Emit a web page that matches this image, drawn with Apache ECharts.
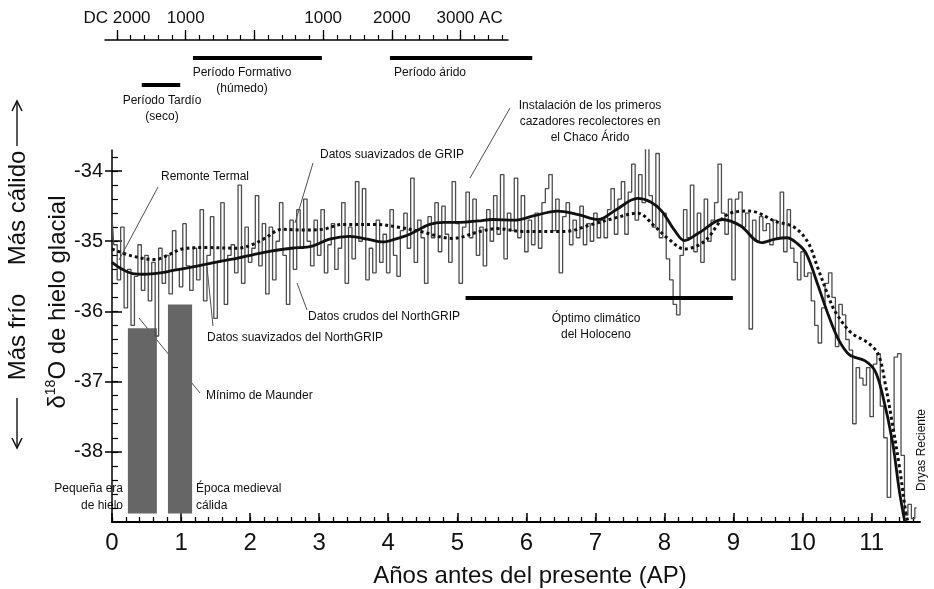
<!DOCTYPE html>
<html><head><meta charset="utf-8">
<script src="https://cdn.jsdelivr.net/npm/echarts@6/dist/echarts.min.js"></script>
<style>html,body{margin:0;padding:0;background:#fff}#c{width:934px;height:589px}</style>
</head><body><div id="c"></div>
<script>
const FONT = '"Liberation Sans", Arial, Helvetica, sans-serif';

// ---- axis ticks / labels ----
const xMajorTicks = [0,1,2,3,4,5,6,7,8,9,10,11];
const xTickLabels = ['0','1','2','3','4','5','6','7','8','9','10','11'];
const yMajorTicks = [-39,-38,-37,-36,-35,-34];
const yLabelValues = [-38,-37,-36,-35,-34];
const topMajorTicks = [0,1,2,3,4,5];
const topTickLabels = ['DC 2000','1000','','1000','2000','3000 AC'];

// ---- raw NorthGRIP (step 0.05 ka from 0) ----
const rawStep = 0.05;
const rawValues = [
-34.65,-35.05,-35.55,-34.80,-35.95,-35.40,-36.20,-35.50,-35.05,-35.70,
-35.20,-35.85,-35.30,-36.35,-35.10,-35.60,-35.20,-35.75,-34.85,-35.40,
-35.65,-34.75,-35.35,-35.70,-35.10,-35.55,-34.55,-35.85,-35.20,-34.65,
-36.10,-35.30,-34.45,-35.90,-35.20,-35.05,-35.45,-34.20,-35.60,-34.80,
-35.30,-35.10,-34.35,-35.35,-34.75,-35.75,-34.80,-35.55,-35.00,-34.45,
-35.20,-35.90,-34.70,-35.40,-34.55,-35.10,-34.40,-35.00,-35.35,-34.70,
-35.20,-34.55,-35.45,-35.05,-34.75,-35.40,-35.10,-34.45,-35.60,-34.80,
-35.25,-34.15,-35.00,-34.25,-35.55,-35.10,-35.45,-34.70,-35.30,-34.90,
-35.45,-34.55,-35.20,-35.50,-34.85,-34.60,-35.10,-34.10,-35.30,-34.70,
-34.95,-35.60,-34.65,-34.95,-34.45,-35.15,-34.50,-34.90,-35.30,-34.15,
-34.75,-35.60,-34.80,-34.30,-34.95,-34.40,-35.20,-34.80,-35.35,-34.55,
-35.00,-34.35,-34.90,-34.05,-35.25,-34.60,-34.85,
-34.10,-34.95,-34.35,-35.15,-34.70,-35.05,-34.60,-35.10,-34.45,-34.25,
-34.05,-34.85,-34.40,-35.45,-34.65,-34.45,-35.05,-34.70,-34.95,-34.50,
-35.05,-34.75,-35.00,-34.60,-34.95,-34.70,-34.95,-34.55,-34.25,-34.90,
-34.40,-34.15,-34.90,-34.30,-33.90,-34.70,-34.05,-34.45,-33.65,-34.35,
-34.80,-33.75,-34.95,-34.60,-35.25,-35.55,-35.90,-36.05,-35.20,-34.55,
-34.95,-34.20,-35.15,-34.60,-35.30,-34.40,-35.00,-34.70,-34.45,-33.90,
-34.60,
-34.90,-34.40,-35.55,-34.40,-34.30,-34.80,-34.60,-36.25,-34.70,-35.00,
-34.65,-34.85,-34.75,-35.05,-34.70,-34.95,-34.30,-35.15,-34.55,-35.10,
-35.30,-35.55,-35.15,-35.50,-35.45,-35.85,-36.20,-36.45,-35.95,-35.60,
-35.45,-35.80,-36.50,-35.90,-36.05,-36.40,-36.55,-37.60,-36.80,-36.95,
-37.05,-36.80,-37.50,-36.75,-36.60,-37.35,-37.80,-38.65,-37.70,-36.65,
-36.60,-38.05,-38.90,-38.75,-38.95,-38.80
];

// ---- smoothed NorthGRIP (solid) ----
const ngripSmoothAge = [0,0.15,0.30,0.48,0.70,0.87,1.10,1.35,1.60,1.82,2.05,2.30,2.60,2.90,3.15,3.44,3.70,3.92,4.10,4.31,4.60,4.80,5.04,5.30,5.51,5.83,6.10,6.45,6.75,7.04,7.30,7.61,7.80,7.96,8.15,8.29,8.50,8.84,9.10,9.40,9.60,9.77,9.92,10.05,10.22,10.38,10.52,10.68,10.90,11.05,11.16,11.30,11.40,11.48];
const ngripSmoothVal = [-35.30,-35.40,-35.46,-35.47,-35.45,-35.42,-35.38,-35.33,-35.28,-35.24,-35.19,-35.14,-35.10,-35.07,-34.97,-34.93,-34.97,-35.01,-34.97,-34.90,-34.76,-34.73,-34.73,-34.71,-34.69,-34.70,-34.64,-34.57,-34.62,-34.69,-34.55,-34.39,-34.44,-34.57,-34.85,-34.99,-34.88,-34.69,-34.78,-35.02,-34.97,-34.95,-35.03,-35.17,-35.62,-36.07,-36.40,-36.62,-36.70,-36.85,-37.20,-37.85,-38.55,-39.00];

// ---- smoothed GRIP (dotted) ----
const gripSmoothAge = [0,0.29,0.62,0.85,1.01,1.35,1.82,2.05,2.21,2.46,2.80,3.05,3.34,3.83,4.15,4.46,4.93,5.33,5.57,5.95,6.56,6.95,7.28,7.61,7.86,8.05,8.29,8.58,8.91,9.23,9.62,9.88,10.08,10.22,10.38,10.47,10.70,10.95,11.10,11.20,11.30,11.40,11.50,11.53];
const gripSmoothVal = [-35.11,-35.21,-35.26,-35.18,-35.11,-35.09,-35.10,-35.04,-34.96,-34.83,-34.84,-34.83,-34.76,-34.76,-34.80,-34.86,-34.96,-34.86,-34.82,-34.86,-34.86,-34.76,-34.67,-34.60,-34.79,-34.96,-35.11,-35.00,-34.62,-34.57,-34.72,-34.80,-35.02,-35.38,-35.80,-36.00,-36.30,-36.45,-36.62,-37.05,-37.60,-38.20,-38.90,-39.00];

// ---- grey period bars ----
const barNames = ['Pequeña era de hielo','Época medieval cálida'];
const barStart = [0.23, 0.81];
const barEnd = [0.65, 1.16];
const barTop = [-36.24, -35.90];
const barBottom = -38.88;

// ---- Holocene optimum ----
const optimumStart = 5.12, optimumEnd = 8.99, optimumLevel = -35.81;

// ---- cultural periods (top scale, ka from AD 2000) ----
const periodNames = ['Período Tardío','Período Formativo','Período árido'];
const periodStart = [0.36, 1.105, 3.97];
const periodEnd = [0.92, 2.98, 6.04];
const periodRow = [45, 18, 18];

// ---- build ----
const rawData = rawValues.map((v, i) => [+(i * rawStep).toFixed(2), v]);
const ngripData = ngripSmoothAge.map((a, i) => [a, ngripSmoothVal[i]]);
const gripData = gripSmoothAge.map((a, i) => [a, gripSmoothVal[i]]);
function range(a, b, s) { const r = []; for (let v = a; v <= b + 1e-9; v += s) r.push(+v.toFixed(2)); return r; }
const xMinorTicks = range(0, 11.6, 0.2);
const yMinorTicks = range(-38.8, -33.8, 0.2);
const topMinorTicks = range(0, 5.6, 0.2);

const black = '#111';
const chart = echarts.init(document.getElementById('c'));

const periodSeries = periodNames.map((n, i) => ({
  type: 'line', name: n, xAxisIndex: 4, yAxisIndex: 4, symbol: 'none', clip: false, silent: true,
  data: [[periodStart[i], periodRow[i]], [periodEnd[i], periodRow[i]]],
  lineStyle: { color: '#000', width: 4 }
}));

function txt(x, y, text, align, size, extra) {
  return Object.assign({ type: 'text', x: x, y: y, silent: true,
    style: { text: text, align: align || 'center', verticalAlign: 'middle', fontSize: size || 12, fontFamily: FONT, fill: black, lineHeight: 16 } }, extra || {});
}
function ln(x1, y1, x2, y2, w) {
  return { type: 'line', silent: true, shape: { x1, y1, x2, y2 }, style: { stroke: '#222', lineWidth: w || 0.8 } };
}

const option = {
  animation: false,
  backgroundColor: '#fff',
  grid: [
    { left: 112, top: 150, width: 808, height: 372, outerBoundsMode: 'none' },
    { left: 105, top: 40, width: 403, height: 80, outerBoundsMode: 'none' },
    { left: 105, top: 40, width: 440, height: 80, outerBoundsMode: 'none' }
  ],
  xAxis: [
    { gridIndex: 0, type: 'value', position: 'bottom', min: 0, max: 11.7,
      axisLine: { show: true, onZero: false, lineStyle: { color: '#000', width: 2 } },
      axisTick: { show: true, inside: true, length: 9, customValues: xMajorTicks, lineStyle: { color: '#000', width: 1.5 } },
      axisLabel: { show: true, customValues: xMajorTicks, formatter: v => xTickLabels[xMajorTicks.indexOf(Math.round(v))], fontSize: 24, color: black, fontFamily: FONT, margin: 9 },
      splitLine: { show: false },
      name: 'Años antes del presente (AP)', nameLocation: 'middle', nameGap: 42,
      nameTextStyle: { fontSize: 24, color: black, fontFamily: FONT, padding: [0, 0, 0, 28] } },
    { gridIndex: 0, type: 'value', position: 'bottom', min: 0, max: 11.7,
      axisLine: { show: false }, axisTick: { show: true, inside: true, length: 5, customValues: xMinorTicks, lineStyle: { color: '#000', width: 1.3 } },
      axisLabel: { show: false }, splitLine: { show: false } },
    { gridIndex: 1, type: 'value', position: 'top', min: -0.1745, max: 5.69,
      axisLine: { show: true, onZero: false, lineStyle: { color: '#000', width: 1.5 } },
      axisTick: { show: true, inside: false, length: 10, customValues: topMajorTicks, lineStyle: { color: '#000', width: 1.3 } },
      axisLabel: { show: true, customValues: topMajorTicks, fontSize: 17, color: black, fontFamily: FONT, margin: 13,
        formatter: v => { const s = topTickLabels[topMajorTicks.indexOf(Math.round(v))]; return s.indexOf('AC') >= 0 ? '{p|}' + s : s; },
        rich: { p: { width: 18 } } },
      splitLine: { show: false } },
    { gridIndex: 1, type: 'value', position: 'top', min: -0.1745, max: 5.69,
      axisLine: { show: false }, axisTick: { show: true, inside: false, length: 5, customValues: topMinorTicks, lineStyle: { color: '#000', width: 1.2 } },
      axisLabel: { show: false }, splitLine: { show: false } },
    { gridIndex: 2, type: 'value', min: -0.1745, max: 6.2255, show: false }
  ],
  yAxis: [
    { gridIndex: 0, type: 'value', position: 'left', min: -39, max: -33.7,
      axisLine: { show: true, onZero: false, lineStyle: { color: '#000', width: 1.5 } },
      axisTick: { show: true, inside: false, length: 7, customValues: yLabelValues, lineStyle: { color: '#000', width: 1.5 } },
      axisLabel: { show: true, customValues: yLabelValues, fontSize: 20, color: black, fontFamily: FONT, margin: 9 },
      splitLine: { show: false } },
    { gridIndex: 0, type: 'value', position: 'left', min: -39, max: -33.7,
      axisLine: { show: false }, axisTick: { show: true, inside: true, length: 10, customValues: yMajorTicks, lineStyle: { color: '#000', width: 1.5 } },
      axisLabel: { show: false }, splitLine: { show: false } },
    { gridIndex: 0, type: 'value', position: 'left', min: -39, max: -33.7,
      axisLine: { show: false }, axisTick: { show: true, inside: true, length: 6, customValues: yMinorTicks, lineStyle: { color: '#000', width: 1.2 } },
      axisLabel: { show: false }, splitLine: { show: false } },
    { gridIndex: 1, type: 'value', min: 0, max: 80, inverse: true, show: false },
    { gridIndex: 2, type: 'value', min: 0, max: 80, inverse: true, show: false }
  ],
  series: [
    { type: 'line', name: 'bars', xAxisIndex: 0, yAxisIndex: 0, data: [], z: 1, silent: true,
      markArea: { silent: true, itemStyle: { color: '#666', opacity: 1 },
        data: barNames.map((n, i) => [{ coord: [barStart[i], barTop[i]] }, { coord: [barEnd[i], barBottom] }]) } },
    { type: 'line', name: 'Datos crudos del NorthGRIP', xAxisIndex: 0, yAxisIndex: 0, step: 'middle', symbol: 'none', z: 2,
      data: rawData, lineStyle: { color: '#4d4d4d', width: 1.3 } },
    { type: 'line', name: 'Datos suavizados de GRIP', xAxisIndex: 0, yAxisIndex: 0, smooth: 0.35, symbol: 'none', z: 3,
      data: gripData, lineStyle: { color: '#111', width: 3, type: [3, 3], cap: 'butt' } },
    { type: 'line', name: 'Datos suavizados del NorthGRIP', xAxisIndex: 0, yAxisIndex: 0, smooth: 0.35, symbol: 'none', z: 4,
      data: ngripData, lineStyle: { color: '#111', width: 2.8 } },
    { type: 'line', name: 'Óptimo', xAxisIndex: 0, yAxisIndex: 0, symbol: 'none', z: 4, clip: false,
      data: [[optimumStart, optimumLevel], [optimumEnd, optimumLevel]], lineStyle: { color: '#000', width: 4 } }
  ].concat(periodSeries),
  graphic: [
    // left axis title
    { type: 'text', x: 58, y: 302, rotation: Math.PI / 2, silent: true,
      style: { text: '{n|δ}{s|18}{n|O de hielo glacial}', align: 'center', verticalAlign: 'middle',
        rich: { n: { fontSize: 24, fontFamily: FONT, fill: black, lineHeight: 28 },
                s: { fontSize: 14, fontFamily: FONT, fill: black, lineHeight: 28, verticalAlign: 'top' } } } },
    txt(18, 208, 'Más cálido', 'center', 24, { rotation: Math.PI / 2 }),
    txt(18, 337, 'Más frío', 'center', 24, { rotation: Math.PI / 2 }),
    ln(17, 146, 17, 102, 1.5),
    { type: 'polyline', silent: true, shape: { points: [[12, 111], [17, 101], [22, 111]] }, style: { stroke: '#111', lineWidth: 1.5, fill: null } },
    ln(17, 398, 17, 447, 1.5),
    { type: 'polyline', silent: true, shape: { points: [[12, 438], [17, 448], [22, 438]] }, style: { stroke: '#111', lineWidth: 1.5, fill: null } },
    // period labels
    txt(242, 81, 'Período Formativo\n(húmedo)'),
    txt(430, 73, 'Período árido'),
    txt(162, 109, 'Período Tardío\n(seco)'),
    // annotations
    txt(205, 177, 'Remonte Termal'),
    ln(158, 187, 119, 260),
    txt(392, 155, 'Datos suavizados de GRIP'),
    ln(313, 163, 295, 223),
    txt(590, 122, 'Instalación de los primeros\ncazadores recolectores en\nel Chaco Árido'),
    ln(510, 108, 470, 178),
    txt(384, 317, 'Datos crudos del NorthGRIP'),
    ln(297, 283, 307, 310),
    txt(207, 338, 'Datos suavizados del NorthGRIP', 'left'),
    ln(207, 267, 213, 326),
    txt(596, 327, 'Óptimo climático\ndel Holoceno'),
    txt(206, 396, 'Mínimo de Maunder', 'left'),
    ln(139, 318, 200, 393),
    txt(123, 497, 'Pequeña era\nde hielo', 'right', 12, { style: { text: 'Pequeña era\nde hielo', align: 'right', verticalAlign: 'middle', fontSize: 12, fontFamily: FONT, fill: black, lineHeight: 17 } }),
    txt(196, 497, 'Época medieval\ncálida', 'left', 12, { style: { text: 'Época medieval\ncálida', align: 'left', verticalAlign: 'middle', fontSize: 12, fontFamily: FONT, fill: black, lineHeight: 17 } }),
    txt(922, 450, 'Dryas Reciente', 'center', 12, { rotation: Math.PI / 2 })
  ]
};
chart.setOption(option);
</script>
</body></html>
